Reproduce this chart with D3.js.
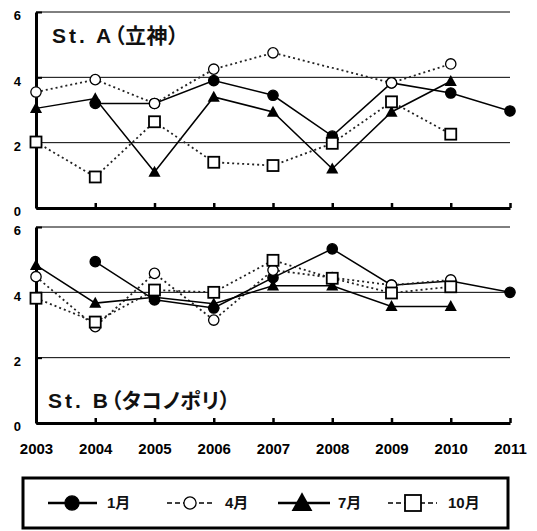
<!DOCTYPE html>
<html><head><meta charset="utf-8">
<script src="https://cdn.jsdelivr.net/npm/d3@7"></script>
<style>
html,body{margin:0;padding:0;background:#fff;}
svg{display:block;font-family:"Liberation Sans",Arial,"Noto Sans CJK JP",sans-serif;}
.title{font-family:"Liberation Sans","Noto Sans CJK JP",sans-serif;font-weight:bold;font-feature-settings:"palt";}
</style>
</head><body>
<svg id="c" width="537" height="531"></svg>
<script>
const years = [2003,2004,2005,2006,2007,2008,2009,2010,2011];
const yTicks = [0,2,4,6];
const seriesNames = ["1月","4月","7月","10月"];
const panelTitles = [["St. A","（立神）"],["St. B","（タコノポリ）"]];

// St. A (立神)
const A_jan = [null,3.2,3.2,3.9,3.45,2.2,3.83,3.52,2.97];
const A_apr = [3.55,3.93,3.2,4.25,4.75,null,3.83,4.41,null];
const A_jul = [3.05,3.35,1.1,3.4,2.94,1.2,2.94,3.88,null];
const A_oct = [2.02,0.95,2.64,1.4,1.3,1.98,3.25,2.26,null];
// St. B (タコノポリ)
const B_jan = [null,4.94,3.77,3.52,4.45,5.33,4.22,4.35,4.0];
const B_apr = [4.48,2.95,4.58,3.15,4.68,4.45,4.22,4.38,null];
const B_jul = [4.83,3.67,3.85,3.65,4.2,4.2,3.57,3.57,null];
const B_oct = [3.82,3.09,4.07,4.0,4.98,4.43,3.98,4.17,null];

const svg = d3.select("#c");
const x = d3.scaleLinear().domain([2003,2011]).range([36,510]);
const styles = [
  {marker:"circle", fill:"#000", dash:null, legDash:null},
  {marker:"circle", fill:"#fff", dash:"2,3", legDash:"5,3"},
  {marker:"triangle", fill:"#000", dash:null, legDash:null},
  {marker:"square", fill:"#fff", dash:"2,3", legDash:"5,3"}
];

function drawMarker(g, type, fill, cx, cy, s){
  if(type==="circle"){
    g.append("circle").attr("cx",cx).attr("cy",cy).attr("r",s*0.47)
      .attr("fill",fill).attr("stroke","#000").attr("stroke-width",1.3);
  } else if(type==="square"){
    g.append("rect").attr("x",cx-s/2).attr("y",cy-s/2).attr("width",s).attr("height",s)
      .attr("fill",fill).attr("stroke","#000").attr("stroke-width",1.8);
  } else {
    const h=s*0.95;
    g.append("path").attr("d",`M${cx},${cy-h*0.6}L${cx+s*0.55},${cy+h*0.45}L${cx-s*0.55},${cy+h*0.45}Z`)
      .attr("fill","#000");
  }
}

function panel(y0, y1, data, title, titleX, titleY, showLabels){
  const y = d3.scaleLinear().domain([0,6]).range([y0,y1]);
  const g = svg.append("g");
  // gridlines
  g.selectAll("line.grid").data([2,4,6]).join("line")
    .attr("x1",x(2003)).attr("x2",x(2011)).attr("y1",d=>y(d)).attr("y2",d=>y(d))
    .attr("stroke","#000").attr("stroke-width",1);
  // y axis
  const ya = g.append("g").attr("transform",`translate(${x(2003)},0)`)
    .call(d3.axisLeft(y).tickValues(yTicks).tickFormat(d3.format("d"))
      .tickSizeInner(-6).tickSizeOuter(0).tickPadding(15));
  ya.select(".domain").attr("stroke-width",3);
  ya.selectAll(".tick line").attr("stroke-width",2);
  ya.selectAll(".tick text").attr("font-size",13).attr("font-weight","bold")
    .attr("font-family","Liberation Sans, Arial, sans-serif").attr("dy","0.6em").attr("fill","#000");
  // x axis
  const xa = g.append("g").attr("transform",`translate(0,${y0})`)
    .call(d3.axisBottom(x).tickValues(years).tickSizeInner(-5).tickSizeOuter(0).tickPadding(20)
      .tickFormat(showLabels ? d3.format("d") : ()=>""));
  xa.select(".domain").attr("stroke-width",3);
  xa.selectAll(".tick line").attr("stroke-width",2.5);
  xa.selectAll(".tick text").attr("font-size",15).attr("font-weight","bold")
    .attr("font-family","Liberation Sans, Arial, sans-serif").attr("fill","#000");
  // series
  data.forEach((vals,i)=>{
    const st = styles[i];
    const pts = years.map((yr,k)=>[yr,vals[k]]).filter(d=>d[1]!=null);
    const line = d3.line().x(d=>x(d[0])).y(d=>y(d[1]));
    g.append("path").attr("d",line(pts)).attr("fill","none")
      .attr("stroke", st.dash ? "#222" : "#000").attr("stroke-width", st.dash?1.8:1.5)
      .attr("stroke-dasharray", st.dash);
    const mg = g.append("g");
    pts.forEach(d=>drawMarker(mg, st.marker, st.fill, x(d[0]), y(d[1]), 11));
  });
  const t = g.append("text").attr("class","title").attr("x",titleX).attr("y",titleY)
    .attr("font-size",21).attr("fill","#111");
  t.append("tspan").attr("letter-spacing",3).text(title[0]);
  t.append("tspan").attr("letter-spacing",0.5).text(title[1]);
}

panel(208, 12, [A_jan,A_apr,A_jul,A_oct], panelTitles[0], 52, 43, false);
panel(423, 227, [B_jan,B_apr,B_jul,B_oct], panelTitles[1], 48, 408, true);

// legend
const lg = svg.append("g");
lg.append("rect").attr("x",23).attr("y",478).attr("width",485).attr("height",50)
  .attr("fill","#fff").attr("stroke","#000").attr("stroke-width",3);
const legX = [[48,97,72,107],[167,213,190,225],[278,330,302,338],[388,437,413,448]];
const legY = 503;
seriesNames.forEach((name,i)=>{
  const st = styles[i]; const p = legX[i];
  lg.append("line").attr("x1",p[0]).attr("x2",p[1]).attr("y1",legY).attr("y2",legY)
    .attr("stroke","#000").attr("stroke-width",st.legDash?1.6:2.5).attr("stroke-dasharray",st.legDash);
  const sz = st.marker==="circle" ? (st.fill==="#000"?15:13) : st.marker==="square"?16:19;
  drawMarker(lg, st.marker, st.fill, p[2], legY, sz);
  lg.append("text").attr("x",p[3]).attr("y",legY+5).attr("font-size",15).attr("font-weight","bold")
    .attr("font-family","Liberation Sans, Noto Sans CJK JP, sans-serif").attr("fill","#111").text(name);
});
</script>
</body></html>
